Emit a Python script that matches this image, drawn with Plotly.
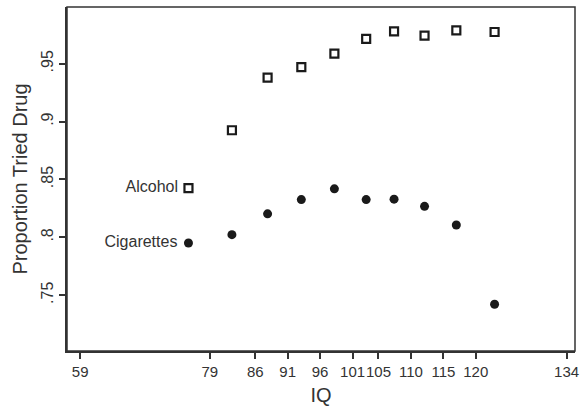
import plotly.graph_objects as go

# Mean IQ of each group and the share that has tried each drug
iq_alcohol = [75.7, 82.4, 87.9, 93.1, 98.2, 103.1, 107.4, 112.1, 117.0, 122.9]
alcohol = [0.8425, 0.8925, 0.938, 0.947, 0.9587, 0.9714, 0.978, 0.9742, 0.9788, 0.9774]

iq_cigarettes = [75.7, 82.4, 87.9, 93.1, 98.2, 103.1, 107.4, 112.1, 117.0, 122.9]
cigarettes = [0.7951, 0.8023, 0.8203, 0.8326, 0.8419, 0.8326, 0.8330, 0.8268, 0.8107, 0.7422]

x_ticks = [59, 79, 86, 91, 96, 101, 105, 110, 115, 120, 134]
y_ticks = [0.75, 0.8, 0.85, 0.9, 0.95]
y_tick_labels = [".75", ".8", ".85", ".9", ".95"]

ink = "#1a1a1a"
grey = "#333333"
font_family = "Liberation Sans, Arial, sans-serif"

fig = go.Figure()

fig.add_trace(go.Scatter(
    x=iq_alcohol, y=alcohol, mode="markers+text",
    marker=dict(symbol="square-open", size=8, color=ink, line=dict(width=2.2, color=ink)),
    text=["Alcohol "] + [""] * (len(alcohol) - 1),
    textposition="middle left",
    textfont=dict(size=16, color=grey, family=font_family),
    showlegend=False,
))

fig.add_trace(go.Scatter(
    x=iq_cigarettes, y=cigarettes, mode="markers+text",
    marker=dict(symbol="circle", size=9, color=ink),
    text=["Cigarettes "] + [""] * (len(cigarettes) - 1),
    textposition="middle left",
    textfont=dict(size=16, color=grey, family=font_family),
    showlegend=False,
))

fig.update_layout(
    width=584, height=410,
    margin=dict(l=67, r=5, t=7, b=59),
    paper_bgcolor="white", plot_bgcolor="white",
    font=dict(family=font_family, color=grey),
    xaxis=dict(
        range=[56.97, 135.3], tickmode="array", tickvals=x_ticks, tickangle=0,
        ticks="outside", ticklen=6, tickwidth=1.5, tickcolor=grey,
        ticklabelstandoff=0,
        showline=True, linewidth=2, linecolor=grey,
        showgrid=False, zeroline=False,
        tickfont=dict(size=15, color=grey),
        title=dict(text="IQ", font=dict(size=20, color=grey), standoff=9),
    ),
    yaxis=dict(
        range=[0.7018, 0.999], tickmode="array", tickvals=y_ticks, ticktext=y_tick_labels,
        tickangle=-90,
        ticks="outside", ticklen=6, tickwidth=1.5, tickcolor=grey,
        showline=True, linewidth=2, linecolor=grey,
        showgrid=False, zeroline=False,
        tickfont=dict(size=16, color=grey),
        title=dict(text="Proportion Tried Drug", font=dict(size=20, color=grey), standoff=6),
    ),
    shapes=[dict(type="rect", xref="paper", yref="paper", x0=0, x1=1, y0=0, y1=1,
                 line=dict(color=grey, width=1.5), layer="above")],
)

fig.write_html("out.html")
